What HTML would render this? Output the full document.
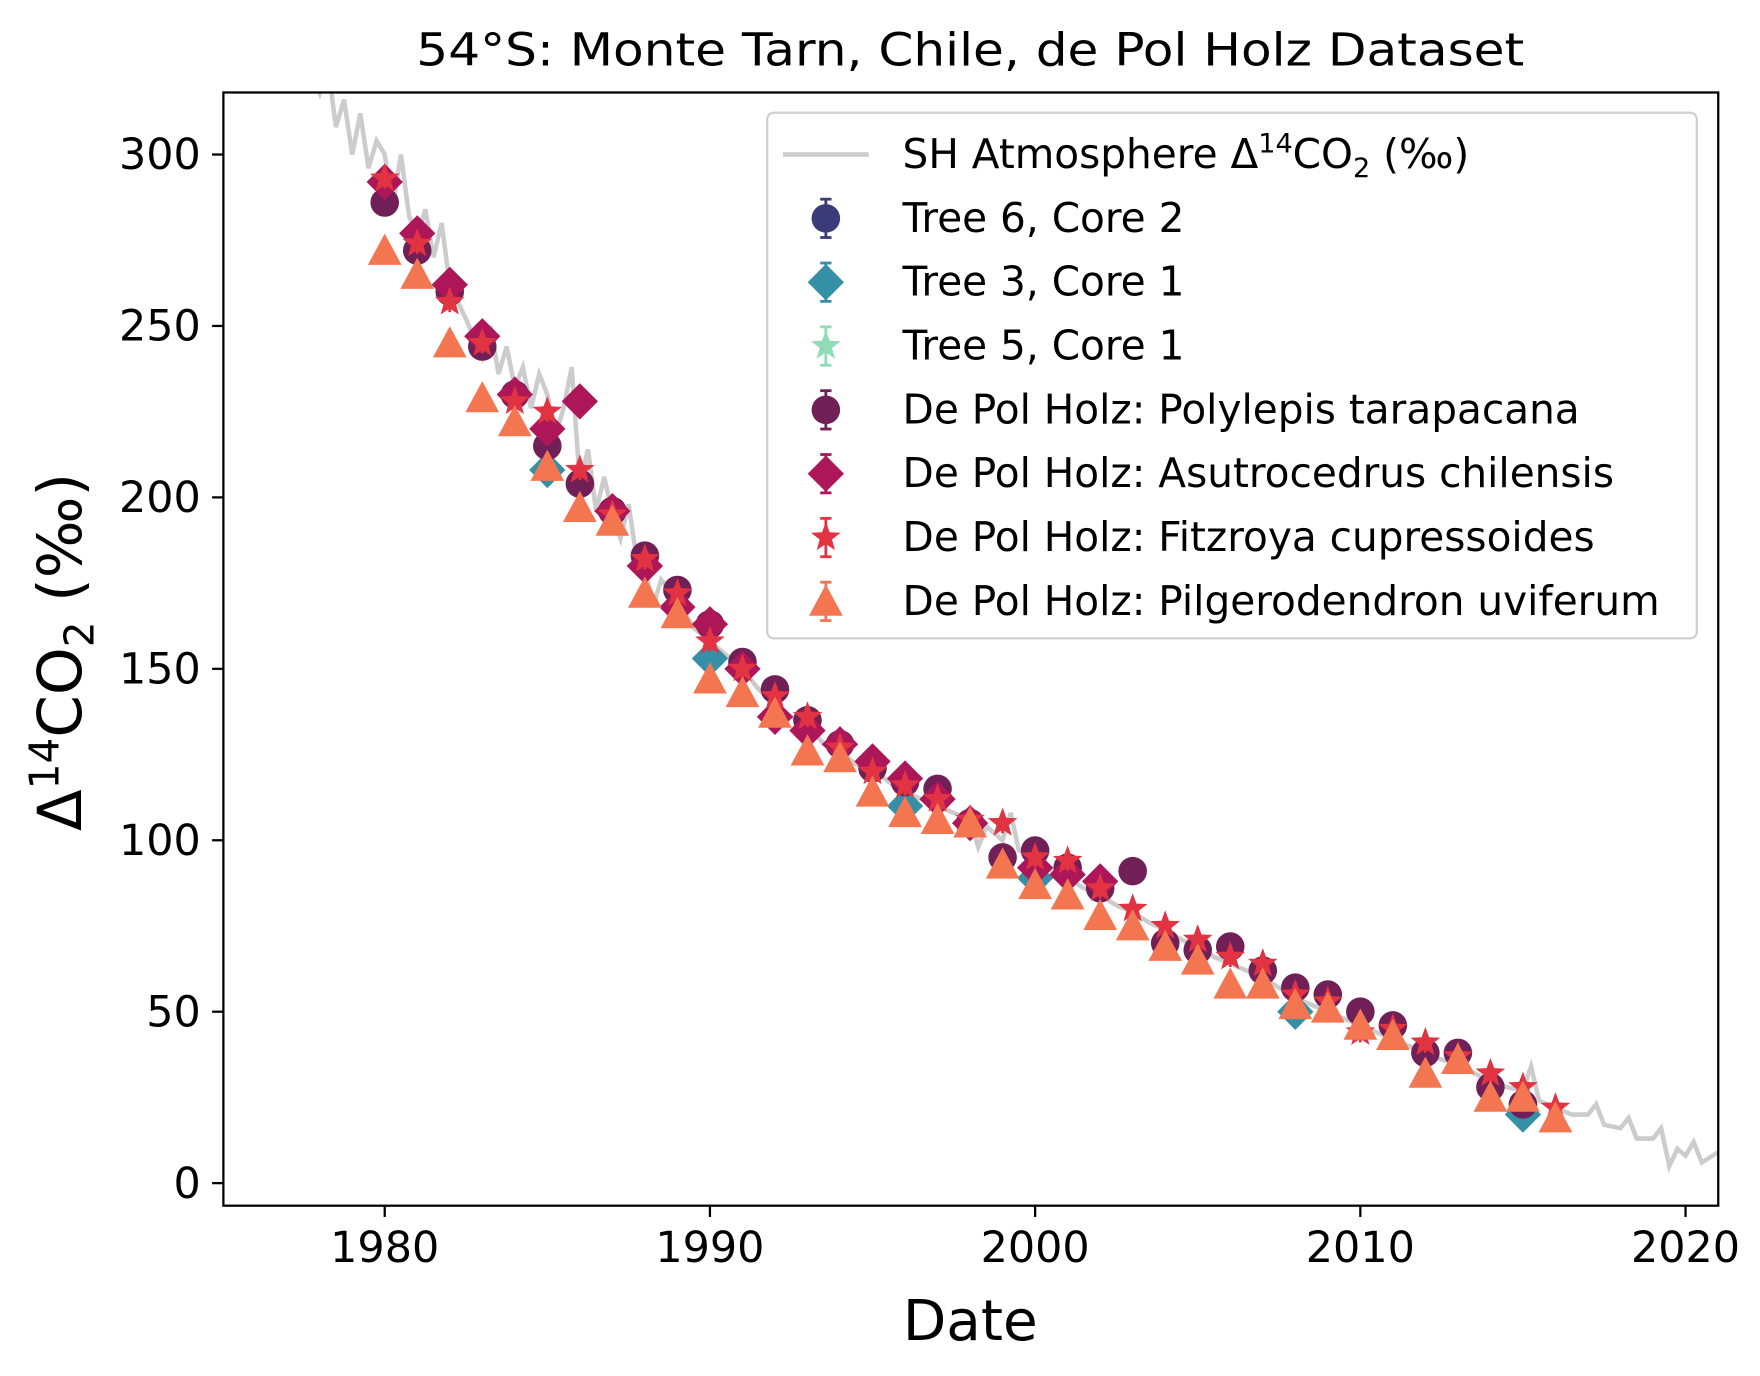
<!DOCTYPE html>
<html><head><meta charset="utf-8"><style>
html,body{margin:0;padding:0;background:#fff}
svg{display:block;font-family:"DejaVu Sans","Liberation Sans",sans-serif}
</style></head><body>
<svg id="chart" width="1760" height="1376" viewBox="0 0 1560 1220" preserveAspectRatio="none" xmlns="http://www.w3.org/2000/svg">
<rect width="1560" height="1220" fill="#fff"/>
<text x="860" y="58" text-anchor="middle" font-size="40" textLength="982" lengthAdjust="spacingAndGlyphs">54°S: Monte Tarn, Chile, de Pol Holz Dataset</text>
<defs><clipPath id="clip"><rect x="198" y="82" width="1325" height="987"/></clipPath></defs>
<g id="plot" clip-path="url(#clip)"></g>
<rect x="198" y="82" width="1325" height="987" fill="none" stroke="#000" stroke-width="2"/>
<g id="axes"></g>
<text x="860" y="1188" text-anchor="middle" font-size="50">Date</text>
<text transform="translate(72,578) rotate(-90)" text-anchor="middle" font-size="54">Δ<tspan font-size="36" dy="-20">14</tspan><tspan dy="20">CO</tspan><tspan font-size="36" dy="11">2</tspan><tspan dy="-11"> (‰)</tspan></text>
<g id="legend"></g>
</svg>
<script>
const xTicks=[1980,1990,2000,2010,2020];
const yTicks=[0,50,100,150,200,250,300];
const atmYears=[1977.5,1978,1978.25,1978.5,1978.75,1979,1979.25,1979.5,1979.75,1980,1980.25,1980.5,1980.75,1981,1981.25,1981.5,1981.75,1982,1982.5,1983,1983.25,1983.5,1983.75,1984,1984.25,1984.5,1984.75,1985,1985.25,1985.5,1985.75,1986,1986.25,1986.5,1986.75,1987,1987.25,1987.5,1987.75,1988,1988.25,1988.5,1989,1989.5,1990,1990.5,1991,1991.5,1992,1992.5,1993,1993.5,1994,1994.5,1995,1995.5,1996,1996.5,1997,1997.5,1998,1998.25,1998.5,1999,1999.25,1999.5,2000,2000.5,2001,2001.5,2002,2002.5,2003,2003.5,2004,2004.5,2005,2005.5,2006,2006.5,2007,2007.5,2008,2008.5,2009,2009.5,2010,2010.5,2011,2011.5,2012,2012.5,2013,2013.5,2014,2014.5,2015,2015.25,2015.5,2016,2016.5,2017,2017.25,2017.5,2018,2018.25,2018.5,2019,2019.25,2019.5,2019.75,2020,2020.25,2020.5,2021];
const atmValues=[330,318,326,308,316,300,312,296,304,300,285,300,282,276,284,270,280,262,252,241,250,236,244,232,238,226,236,230,218,226,238,204,214,196,206,195,188,198,182,180,168,176,170,162,158,154,150,144,140,136,134,128,126,122,121,117,114,112,110,108,106,98,104,100,108,97,95,91,89,86,84,81,79,76,74,71,69,66,64,62,60,57,54,52,50,48,46,44,42,40,38,36,35,32,30,28,27,34,24,22,20,20,23,17,16,19,13,13,16,5,10,8,12,6,9,6];
const trYears=[1985,1990,1996,2000,2008,2015];
const trValues=[208,153,110,89,50,20];
const poYears=[1980,1981,1982,1983,1984,1985,1986,1987,1988,1989,1990,1991,1992,1993,1994,1995,1996,1997,1998,1999,2000,2001,2002,2003,2004,2005,2006,2007,2008,2009,2010,2011,2012,2013,2014,2015];
const poValues=[286,272,260,244,230,215,204,196,183,173,163,152,144,135,128,121,117,115,105,95,97,92,86,91,70,68,69,62,57,55,50,46,38,38,28,23];
const asYears=[1980,1981,1982,1983,1984,1985,1986,1987,1988,1989,1990,1991,1992,1993,1994,1995,1996,1997,1998,2000,2001,2002];
const asValues=[292,277,262,247,230,220,228,196,180,168,163,150,136,132,128,123,118,112,105,92,90,88];
const fiYears=[1980,1981,1982,1983,1984,1985,1986,1987,1988,1989,1990,1991,1992,1993,1994,1995,1996,1997,1998,1999,2000,2001,2002,2003,2004,2005,2006,2007,2008,2009,2010,2011,2012,2013,2014,2015,2016];
const fiValues=[293,274,257,245,228,225,208,195,182,172,158,150,142,136,127,120,116,112,106,105,95,94,86,80,75,71,66,64,55,53,44,45,41,37,32,28,22];
const piYears=[1980,1981,1982,1983,1984,1985,1986,1987,1988,1989,1990,1991,1992,1993,1994,1995,1996,1997,1998,1999,2000,2001,2002,2003,2004,2005,2006,2007,2008,2009,2010,2011,2012,2013,2014,2015,2016];
const piValues=[272,265,245,229,222,209,197,193,172,166,147,143,137,126,124,114,108,106,105,93,87,84,78,75,69,65,58,58,52,51,46,43,32,36,25,25,19];

const NS="http://www.w3.org/2000/svg";
const X=v=>341+(v-1980)*(1494-341)/40;
const Y=v=>1049-v*(1049-137)/300;
function mk(tag,attrs,parent){const e=document.createElementNS(NS,tag);for(const k in attrs)e.setAttribute(k,attrs[k]);parent.appendChild(e);return e;}
const plot=document.getElementById('plot'),axes=document.getElementById('axes'),leg=document.getElementById('legend');
xTicks.forEach(t=>{
 const l=mk('line',{x1:X(t),x2:X(t),y1:1069,y2:1079,stroke:'#000','stroke-width':2},axes);
 
 
 const s=mk('text',{x:X(t),y:1119,'text-anchor':'middle','font-size':38},axes);s.textContent=t;
 
 
});
yTicks.forEach(t=>{
 const l=mk('line',{x1:188,x2:198,y1:Y(t),y2:Y(t),stroke:'#000','stroke-width':2},axes);
 
 
 const s=mk('text',{x:178,y:Y(t)+13,'text-anchor':'end','font-size':38},axes);s.textContent=t;
 
 
});
const atm=mk('polyline',{points:atmYears.map((y,i)=>X(y)+','+Y(atmValues[i])).join(' '),fill:'none',stroke:'#cccccc','stroke-width':4},plot);


function marker(shape,cx,cy,color,parent,s){
 s=s||1.15;
 if(shape==='circle')return mk('circle',{cx:cx,cy:cy,r:11*s,fill:color},parent);
 if(shape==='diamond'){const r=14*s;return mk('polygon',{points:`${cx},${cy-r} ${cx+r},${cy} ${cx},${cy+r} ${cx-r},${cy}`,fill:color},parent);}
 if(shape==='tri'){const r=13*s;return mk('polygon',{points:`${cx},${cy-r} ${cx+r},${cy+r*0.85} ${cx-r},${cy+r*0.85}`,fill:color},parent);}
 if(shape==='star'){let p=[];for(let i=0;i<10;i++){const a=-Math.PI/2+i*Math.PI/5,r=(i%2?5:12)*s;p.push((cx+r*Math.cos(a))+','+(cy+r*Math.sin(a)));}return mk('polygon',{points:p.join(' '),fill:color},parent);}
}
function series(ys,vs,shape,color,name){
 const g=mk('g',{},plot);
 
 
 ys.forEach((y,i)=>{
  const cx=X(y),cy=Y(vs[i]);
  const e=mk('line',{x1:cx,x2:cx,y1:cy-9,y2:cy+9,stroke:color,'stroke-width':2.5},g);
  
  
  const m=marker(shape,cx,cy,color,g);
  
  
 });
}
series(trYears,trValues,'diamond','#348fa7','series-tree3-core1');
series(poYears,poValues,'circle','#701f57','series-polylepis');
series(asYears,asValues,'diamond','#ad1759','series-asutrocedrus');
series(fiYears,fiValues,'star','#e13342','series-fitzroya');
series(piYears,piValues,'tri','#f37651','series-pilgerodendron');
const lb=mk('rect',{x:680,y:100,width:824,height:466,rx:6,fill:'#fff','fill-opacity':0.8,stroke:'#d0d0d0','stroke-width':2},leg);


const entries=[['line','#cccccc','SH Atmosphere Δ14CO2 (‰)'],['circle','#3b3b7a','Tree 6, Core 2'],['diamond','#348fa7','Tree 3, Core 1'],['star','#8fdcb6','Tree 5, Core 1'],['circle','#701f57','De Pol Holz: Polylepis tarapacana'],['diamond','#ad1759','De Pol Holz: Asutrocedrus chilensis'],['star','#e13342','De Pol Holz: Fitzroya cupressoides'],['tri','#f37651','De Pol Holz: Pilgerodendron uviferum']];
entries.forEach((en,i)=>{
 const cy=137+i*56.6;
 const g=mk('g',{},leg);
 
 
 if(en[0]==='line'){mk('line',{x1:694,x2:770,y1:cy,y2:cy,stroke:en[1],'stroke-width':4},g);}
 else{mk('line',{x1:732,x2:732,y1:cy-17,y2:cy+17,stroke:en[1],'stroke-width':2.5},g);mk('line',{x1:727,x2:737,y1:cy-17,y2:cy-17,stroke:en[1],'stroke-width':2.5},g);mk('line',{x1:727,x2:737,y1:cy+17,y2:cy+17,stroke:en[1],'stroke-width':2.5},g);marker(en[0],732,cy,en[1],g);}
 const t=mk('text',{x:800,y:cy+12,'font-size':36},g);
 if(i===0){t.innerHTML='SH Atmosphere Δ<tspan font-size="24" dy="-14">14</tspan><tspan dy="14">CO</tspan><tspan font-size="24" dy="8">2</tspan><tspan dy="-8"> (‰)</tspan>';}
 else t.textContent=en[2];
});
</script>
</body></html>
